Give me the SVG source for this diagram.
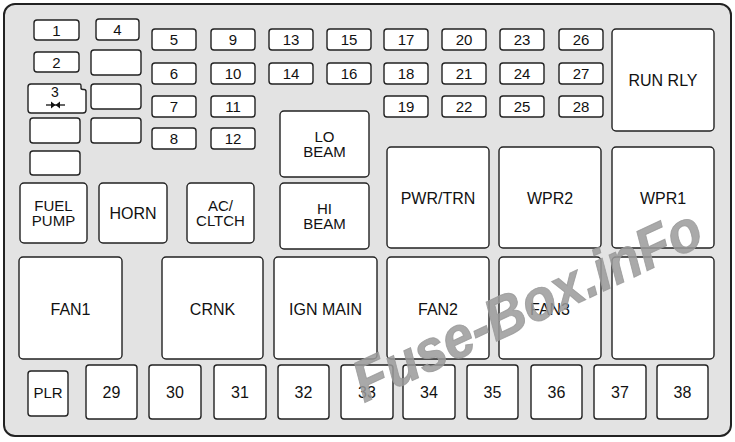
<svg xmlns="http://www.w3.org/2000/svg" width="735" height="442" viewBox="0 0 735 442">
<style>
.b{fill:#fff;stroke:#222;stroke-width:1.4}
.t{font-family:"Liberation Sans",Arial,sans-serif;font-size:15px;fill:#111;text-anchor:middle}
.r{font-family:"Liberation Sans",Arial,sans-serif;font-size:16px;fill:#111;text-anchor:middle}
.r2{font-family:"Liberation Sans",Arial,sans-serif;font-size:15px;fill:#111;text-anchor:middle}
.n{font-family:"Liberation Sans",Arial,sans-serif;font-size:16px;fill:#111;text-anchor:middle}
.wm{font-family:"Liberation Sans",Arial,sans-serif;font-size:58px;font-weight:bold;font-style:italic;fill:#9a9a9a;fill-opacity:0.85;stroke:#9a9a9a;stroke-opacity:0.85;stroke-width:1}
</style>
<rect width="735" height="442" fill="#fff"/>
<rect id="panel" x="4" y="4" width="727" height="432" rx="11" fill="#e3e3e3" stroke="#222" stroke-width="2"/>

<g id="f1"><rect class="b" x="34" y="20" width="45" height="20" rx="3"/><text class="t" x="56.5" y="35.5">1</text></g>
<g id="f4"><rect class="b" x="96" y="19" width="43" height="21" rx="3"/><text class="t" x="117.5" y="35">4</text></g>
<g id="f2"><rect class="b" x="34" y="52" width="45" height="20" rx="3"/><text class="t" x="56.5" y="67.5">2</text></g>
<g id="f3"><path class="b" d="M31,84 H80 Q81,84 81,86 V88 Q81,89.5 83,89.5 H84 Q86,89.5 86,91.5 V110 Q86,113 83,113 H31 Q28,113 28,110 V87 Q28,84 31,84 Z"/><text class="t" x="55" y="97" style="font-size:14px">3</text>
<line x1="46" y1="105" x2="65" y2="105" stroke="#111" stroke-width="1.3"/><polygon points="51,101.5 55.5,105 51,108.5" fill="#111"/><polygon points="60,101.5 55.5,105 60,108.5" fill="#111"/></g>
<g id="blank1"><rect class="b" x="91" y="50" width="50" height="25" rx="3"/></g>
<g id="blank2"><rect class="b" x="91" y="84" width="50" height="25" rx="3"/></g>
<g id="blank3"><rect class="b" x="30" y="118" width="50" height="25" rx="3"/></g>
<g id="blank4"><rect class="b" x="91" y="118" width="50" height="25" rx="3"/></g>
<g id="blank5"><rect class="b" x="30" y="151" width="50" height="24" rx="3"/></g>

<g id="f5"><rect class="b" x="152" y="29" width="44" height="21" rx="3"/><text class="t" x="174" y="45">5</text></g>
<g id="f6"><rect class="b" x="152" y="63" width="44" height="21" rx="3"/><text class="t" x="174" y="79">6</text></g>
<g id="f7"><rect class="b" x="152" y="96" width="44" height="21" rx="3"/><text class="t" x="174" y="112">7</text></g>
<g id="f8"><rect class="b" x="152" y="128" width="44" height="21" rx="3"/><text class="t" x="174" y="144">8</text></g>
<g id="f9"><rect class="b" x="211" y="29" width="44" height="21" rx="3"/><text class="t" x="233" y="45">9</text></g>
<g id="f10"><rect class="b" x="211" y="63" width="44" height="21" rx="3"/><text class="t" x="233" y="79">10</text></g>
<g id="f11"><rect class="b" x="211" y="96" width="44" height="21" rx="3"/><text class="t" x="233" y="112">11</text></g>
<g id="f12"><rect class="b" x="211" y="128" width="44" height="21" rx="3"/><text class="t" x="233" y="144">12</text></g>
<g id="f13"><rect class="b" x="269" y="29" width="44" height="21" rx="3"/><text class="t" x="291" y="45">13</text></g>
<g id="f14"><rect class="b" x="269" y="63" width="44" height="21" rx="3"/><text class="t" x="291" y="79">14</text></g>
<g id="f15"><rect class="b" x="327" y="29" width="44" height="21" rx="3"/><text class="t" x="349" y="45">15</text></g>
<g id="f16"><rect class="b" x="327" y="63" width="44" height="21" rx="3"/><text class="t" x="349" y="79">16</text></g>
<g id="f17"><rect class="b" x="384" y="29" width="44" height="21" rx="3"/><text class="t" x="406" y="45">17</text></g>
<g id="f18"><rect class="b" x="384" y="63" width="44" height="21" rx="3"/><text class="t" x="406" y="79">18</text></g>
<g id="f19"><rect class="b" x="384" y="96" width="44" height="21" rx="3"/><text class="t" x="406" y="112">19</text></g>
<g id="f20"><rect class="b" x="442" y="29" width="44" height="21" rx="3"/><text class="t" x="464" y="45">20</text></g>
<g id="f21"><rect class="b" x="442" y="63" width="44" height="21" rx="3"/><text class="t" x="464" y="79">21</text></g>
<g id="f22"><rect class="b" x="442" y="96" width="44" height="21" rx="3"/><text class="t" x="464" y="112">22</text></g>
<g id="f23"><rect class="b" x="500" y="29" width="44" height="21" rx="3"/><text class="t" x="522" y="45">23</text></g>
<g id="f24"><rect class="b" x="500" y="63" width="44" height="21" rx="3"/><text class="t" x="522" y="79">24</text></g>
<g id="f25"><rect class="b" x="500" y="96" width="44" height="21" rx="3"/><text class="t" x="522" y="112">25</text></g>
<g id="f26"><rect class="b" x="559" y="29" width="44" height="21" rx="3"/><text class="t" x="581" y="45">26</text></g>
<g id="f27"><rect class="b" x="559" y="63" width="44" height="21" rx="3"/><text class="t" x="581" y="79">27</text></g>
<g id="f28"><rect class="b" x="559" y="96" width="44" height="21" rx="3"/><text class="t" x="581" y="112">28</text></g>

<g id="run-rly"><rect class="b" x="612" y="29" width="102" height="102" rx="4"/><text class="r" x="663" y="86">RUN RLY</text></g>
<g id="lo-beam"><rect class="b" x="280" y="111" width="89" height="66" rx="4"/><text class="r2" x="324.5" y="142">LO</text><text class="r2" x="324.5" y="157">BEAM</text></g>
<g id="hi-beam"><rect class="b" x="280" y="183" width="89" height="66" rx="4"/><text class="r2" x="324.5" y="214">HI</text><text class="r2" x="324.5" y="229">BEAM</text></g>
<g id="fuel-pump"><rect class="b" x="20" y="183" width="67" height="60" rx="4"/><text class="r2" x="53.5" y="211">FUEL</text><text class="r2" x="53.5" y="226">PUMP</text></g>
<g id="horn"><rect class="b" x="99" y="183" width="68" height="60" rx="4"/><text class="r" x="133" y="219">HORN</text></g>
<g id="ac-cltch"><rect class="b" x="187" y="183" width="67" height="60" rx="4"/><text class="r2" x="220.5" y="211">AC/</text><text class="r2" x="220.5" y="226">CLTCH</text></g>
<g id="pwr-trn"><rect class="b" x="387" y="147" width="102" height="101" rx="4"/><text class="r" x="438" y="204">PWR/TRN</text></g>
<g id="wpr2"><rect class="b" x="499" y="147" width="102" height="101" rx="4"/><text class="r" x="550" y="204">WPR2</text></g>
<g id="wpr1"><rect class="b" x="612" y="147" width="102" height="101" rx="4"/><text class="r" x="663" y="204">WPR1</text></g>

<g id="fan1"><rect class="b" x="19" y="257" width="103" height="102" rx="4"/><text class="r" x="70.5" y="315">FAN1</text></g>
<g id="crnk"><rect class="b" x="162" y="257" width="101" height="102" rx="4"/><text class="r" x="212.5" y="315">CRNK</text></g>
<g id="ign-main"><rect class="b" x="274" y="257" width="103" height="102" rx="4"/><text class="r" x="325.5" y="315">IGN MAIN</text></g>
<g id="fan2"><rect class="b" x="387" y="257" width="102" height="102" rx="4"/><text class="r" x="438" y="315">FAN2</text></g>
<g id="fan3"><rect class="b" x="499" y="257" width="102" height="102" rx="4"/><text class="r" x="550" y="315">FAN3</text></g>
<g id="blank-relay"><rect class="b" x="612" y="257" width="102" height="102" rx="4"/></g>

<g id="plr"><rect class="b" x="28" y="371" width="40" height="45" rx="3"/><text class="t" x="48" y="398">PLR</text></g>
<g id="f29"><rect class="b" x="86" y="365" width="51" height="54" rx="3"/><text class="n" x="111.5" y="398">29</text></g>
<g id="f30"><rect class="b" x="149" y="365" width="52" height="54" rx="3"/><text class="n" x="175" y="398">30</text></g>
<g id="f31"><rect class="b" x="214" y="365" width="52" height="54" rx="3"/><text class="n" x="240" y="398">31</text></g>
<g id="f32"><rect class="b" x="278" y="365" width="51" height="54" rx="3"/><text class="n" x="303.5" y="398">32</text></g>
<g id="f33"><rect class="b" x="341" y="365" width="52" height="54" rx="3"/><text class="n" x="367" y="398">33</text></g>
<g id="f34"><rect class="b" x="403" y="365" width="52" height="54" rx="3"/><text class="n" x="429" y="398">34</text></g>
<g id="f35"><rect class="b" x="467" y="365" width="51" height="54" rx="3"/><text class="n" x="492.5" y="398">35</text></g>
<g id="f36"><rect class="b" x="531" y="365" width="51" height="54" rx="3"/><text class="n" x="556.5" y="398">36</text></g>
<g id="f37"><rect class="b" x="594" y="365" width="52" height="54" rx="3"/><text class="n" x="620" y="398">37</text></g>
<g id="f38"><rect class="b" x="657" y="365" width="51" height="54" rx="3"/><text class="n" x="682.5" y="398">38</text></g>

<g id="connectors"></g>

<text class="wm" x="364" y="403" transform="rotate(-25 364 403)" textLength="378" lengthAdjust="spacingAndGlyphs">Fuse-Box.inFo</text>
</svg>
